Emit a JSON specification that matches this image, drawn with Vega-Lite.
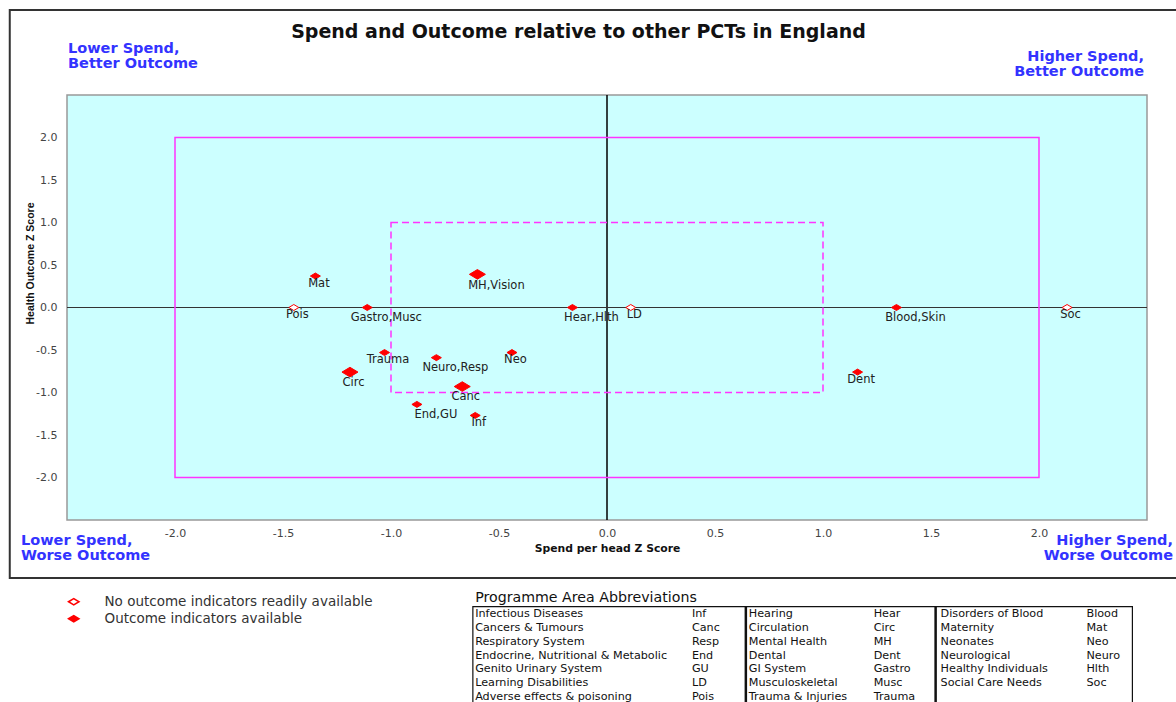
{
  "$schema": "https://vega.github.io/schema/vega-lite/v6.json",
  "width": 1080,
  "height": 425,
  "autosize": {"type": "none"},
  "padding": {"left": 67, "top": 95, "right": 29, "bottom": 182},
  "title": {
    "text": "Spend and Outcome relative to other PCTs in England",
    "anchor": "middle",
    "frame": "group",
    "dx": -28.5,
    "offset": -47.5,
    "baseline": "alphabetic",
    "font": "DejaVu Sans",
    "fontSize": 19,
    "fontWeight": "bold",
    "color": "#111111"
  },
  "datasets": {
    "programmes": [
      {"label": "Mat", "spend_z": -1.35, "outcome_z": 0.37, "indicators": "Outcome indicators available", "weight": "minor"},
      {"label": "MH,Vision", "spend_z": -0.60, "outcome_z": 0.39, "indicators": "Outcome indicators available", "weight": "major"},
      {"label": "Pois", "spend_z": -1.45, "outcome_z": 0.0, "indicators": "No outcome indicators readily available", "weight": "minor"},
      {"label": "Gastro,Musc", "spend_z": -1.11, "outcome_z": 0.0, "indicators": "Outcome indicators available", "weight": "minor"},
      {"label": "Hear,Hlth", "spend_z": -0.16, "outcome_z": 0.0, "indicators": "Outcome indicators available", "weight": "minor"},
      {"label": "LD", "spend_z": 0.11, "outcome_z": 0.0, "indicators": "No outcome indicators readily available", "weight": "minor"},
      {"label": "Blood,Skin", "spend_z": 1.34, "outcome_z": 0.0, "indicators": "Outcome indicators available", "weight": "minor"},
      {"label": "Soc", "spend_z": 2.13, "outcome_z": 0.0, "indicators": "No outcome indicators readily available", "weight": "minor"},
      {"label": "Trauma", "spend_z": -1.03, "outcome_z": -0.53, "indicators": "Outcome indicators available", "weight": "minor"},
      {"label": "Neuro,Resp", "spend_z": -0.79, "outcome_z": -0.59, "indicators": "Outcome indicators available", "weight": "minor"},
      {"label": "Neo", "spend_z": -0.44, "outcome_z": -0.53, "indicators": "Outcome indicators available", "weight": "minor"},
      {"label": "Circ", "spend_z": -1.19, "outcome_z": -0.76, "indicators": "Outcome indicators available", "weight": "major"},
      {"label": "Canc", "spend_z": -0.67, "outcome_z": -0.93, "indicators": "Outcome indicators available", "weight": "major"},
      {"label": "End,GU", "spend_z": -0.88, "outcome_z": -1.14, "indicators": "Outcome indicators available", "weight": "minor"},
      {"label": "Inf", "spend_z": -0.61, "outcome_z": -1.27, "indicators": "Outcome indicators available", "weight": "minor"},
      {"label": "Dent", "spend_z": 1.16, "outcome_z": -0.76, "indicators": "Outcome indicators available", "weight": "minor"}
    ],
    "abbreviations": [
      {"grp": 1, "row": 1, "name": "Infectious Diseases", "abbr": "Inf"},
      {"grp": 1, "row": 2, "name": "Cancers & Tumours", "abbr": "Canc"},
      {"grp": 1, "row": 3, "name": "Respiratory System", "abbr": "Resp"},
      {"grp": 1, "row": 4, "name": "Endocrine, Nutritional & Metabolic", "abbr": "End"},
      {"grp": 1, "row": 5, "name": "Genito Urinary System", "abbr": "GU"},
      {"grp": 1, "row": 6, "name": "Learning Disabilities", "abbr": "LD"},
      {"grp": 1, "row": 7, "name": "Adverse effects & poisoning", "abbr": "Pois"},
      {"grp": 2, "row": 1, "name": "Hearing", "abbr": "Hear"},
      {"grp": 2, "row": 2, "name": "Circulation", "abbr": "Circ"},
      {"grp": 2, "row": 3, "name": "Mental Health", "abbr": "MH"},
      {"grp": 2, "row": 4, "name": "Dental", "abbr": "Dent"},
      {"grp": 2, "row": 5, "name": "GI System", "abbr": "Gastro"},
      {"grp": 2, "row": 6, "name": "Musculoskeletal", "abbr": "Musc"},
      {"grp": 2, "row": 7, "name": "Trauma & Injuries", "abbr": "Trauma"},
      {"grp": 3, "row": 1, "name": "Disorders of Blood", "abbr": "Blood"},
      {"grp": 3, "row": 2, "name": "Maternity", "abbr": "Mat"},
      {"grp": 3, "row": 3, "name": "Neonates", "abbr": "Neo"},
      {"grp": 3, "row": 4, "name": "Neurological", "abbr": "Neuro"},
      {"grp": 3, "row": 5, "name": "Healthy Individuals", "abbr": "Hlth"},
      {"grp": 3, "row": 6, "name": "Social Care Needs", "abbr": "Soc"}
    ]
  },
  "layer": [
    {
      "data": {"name": "programmes"},
      "layer": [
        {
          "data": {"values": [{}]},
          "mark": {"type": "rect", "fill": "transparent", "stroke": "#333333", "strokeWidth": 2},
          "encoding": {"x": {"datum": -2.765}, "x2": {"datum": 2.9}, "y": {"datum": 3.5}, "y2": {"datum": -3.182}}
        },
        {
          "data": {"values": [{}]},
          "mark": {"type": "rule", "color": "#000000", "strokeWidth": 1.5},
          "encoding": {"x": {"datum": 0}}
        },
        {
          "data": {"values": [{}]},
          "mark": {"type": "rule", "color": "#333333", "strokeWidth": 1.2},
          "encoding": {"y": {"datum": 0}}
        },
        {
          "data": {"values": [{}]},
          "mark": {"type": "rect", "fill": "transparent", "stroke": "#ff33ff", "strokeWidth": 1.5},
          "encoding": {"x": {"datum": -2}, "x2": {"datum": 2}, "y": {"datum": 2}, "y2": {"datum": -2}}
        },
        {
          "data": {"values": [{}]},
          "mark": {"type": "rect", "fill": "transparent", "stroke": "#ff33ff", "strokeWidth": 1.5, "strokeDash": [7, 4]},
          "encoding": {"x": {"datum": -1}, "x2": {"datum": 1}, "y": {"datum": 1}, "y2": {"datum": -1}}
        },
        {
          "mark": {"type": "point", "shape": "M-1,0L0,-0.6L1,0L0,0.6Z", "filled": true, "stroke": "#ff0000", "strokeWidth": 1, "opacity": 1},
          "encoding": {
            "x": {
              "field": "spend_z", "type": "quantitative",
              "scale": {"domain": [-2.5, 2.5], "nice": false, "zero": false},
              "axis": {
                "title": "Spend per head Z Score",
                "values": [-2, -1.5, -1, -0.5, 0, 0.5, 1, 1.5, 2],
                "labelExpr": "replace(format(datum.value, '.1f'), '\u2212', '-')",
                "labelPadding": 7,
                "titleFontSize": 10.8,
                "titleBaseline": "alphabetic",
                "titleY": 31
              }
            },
            "y": {
              "field": "outcome_z", "type": "quantitative",
              "scale": {"domain": [-2.5, 2.5], "nice": false, "zero": false},
              "axis": {
                "title": "Health Outcome Z Score",
                "values": [-2, -1.5, -1, -0.5, 0, 0.5, 1, 1.5, 2],
                "labelExpr": "replace(format(datum.value, '.1f'), '\u2212', '-')",
                "labelPadding": 10,
                "titleFont": "Liberation Sans",
                "titleFontSize": 10.5,
                "titleBaseline": "alphabetic",
                "titleX": -34,
                "titleY": 168
              }
            },
            "fill": {
              "field": "indicators", "type": "nominal",
              "scale": {"domain": ["No outcome indicators readily available", "Outcome indicators available"], "range": ["#ffffff", "#ff0000"]},
              "legend": {
                "orient": "none", "legendX": 0, "legendY": 500, "title": null, "padding": 0,
                "symbolType": "M-1,0L0,-0.6L1,0L0,0.6Z", "symbolSize": 110,
                "symbolStrokeColor": "#ff0000", "symbolStrokeWidth": 1.5,
                "labelFont": "DejaVu Sans", "labelFontSize": 13.5, "labelColor": "#333333",
                "labelOffset": 24, "rowPadding": 2, "labelLimit": 500
              }
            },
            "size": {
              "field": "weight", "type": "ordinal",
              "scale": {"domain": ["minor", "major"], "range": [100, 256]},
              "legend": null
            }
          }
        },
        {
          "transform": [{"filter": "datum.weight == 'minor' && indexof(datum.label, ',') < 0"}],
          "mark": {"type": "text", "align": "center", "baseline": "middle", "dx": 3.5, "dy": 7.5, "font": "DejaVu Sans", "fontSize": 11.5, "color": "#222222"},
          "encoding": {"x": {"field": "spend_z", "type": "quantitative"}, "y": {"field": "outcome_z", "type": "quantitative"}, "text": {"field": "label"}}
        },
        {
          "transform": [{"filter": "datum.weight == 'minor' && indexof(datum.label, ',') >= 0"}],
          "mark": {"type": "text", "align": "center", "baseline": "middle", "dx": 19, "dy": 10.5, "font": "DejaVu Sans", "fontSize": 11.5, "color": "#222222"},
          "encoding": {"x": {"field": "spend_z", "type": "quantitative"}, "y": {"field": "outcome_z", "type": "quantitative"}, "text": {"field": "label"}}
        },
        {
          "transform": [{"filter": "datum.weight == 'major' && indexof(datum.label, ',') < 0"}],
          "mark": {"type": "text", "align": "center", "baseline": "middle", "dx": 3.5, "dy": 10.5, "font": "DejaVu Sans", "fontSize": 11.5, "color": "#222222"},
          "encoding": {"x": {"field": "spend_z", "type": "quantitative"}, "y": {"field": "outcome_z", "type": "quantitative"}, "text": {"field": "label"}}
        },
        {
          "transform": [{"filter": "datum.weight == 'major' && indexof(datum.label, ',') >= 0"}],
          "mark": {"type": "text", "align": "center", "baseline": "middle", "dx": 19, "dy": 11.5, "font": "DejaVu Sans", "fontSize": 11.5, "color": "#222222"},
          "encoding": {"x": {"field": "spend_z", "type": "quantitative"}, "y": {"field": "outcome_z", "type": "quantitative"}, "text": {"field": "label"}}
        },
        {
          "data": {"values": [{}]},
          "mark": {"type": "text", "text": ["Lower Spend,", "Better Outcome"], "align": "left", "baseline": "alphabetic", "dx": 1, "dy": -42, "font": "DejaVu Sans", "fontSize": 14.5, "fontWeight": "bold", "lineHeight": 15, "color": "#3333ff"},
          "encoding": {"x": {"datum": -2.5}, "y": {"datum": 2.5}}
        },
        {
          "data": {"values": [{}]},
          "mark": {"type": "text", "text": ["Higher Spend,", "Better Outcome"], "align": "right", "baseline": "alphabetic", "dx": -3, "dy": -34.5, "font": "DejaVu Sans", "fontSize": 14.5, "fontWeight": "bold", "lineHeight": 15, "color": "#3333ff"},
          "encoding": {"x": {"datum": 2.5}, "y": {"datum": 2.5}}
        },
        {
          "data": {"values": [{}]},
          "mark": {"type": "text", "text": ["Lower Spend,", "Worse Outcome"], "align": "left", "baseline": "alphabetic", "dx": -46, "dy": 25, "font": "DejaVu Sans", "fontSize": 14.5, "fontWeight": "bold", "lineHeight": 15, "color": "#3333ff"},
          "encoding": {"x": {"datum": -2.5}, "y": {"datum": -2.5}}
        },
        {
          "data": {"values": [{}]},
          "mark": {"type": "text", "text": ["Higher Spend,", "Worse Outcome"], "align": "right", "baseline": "alphabetic", "dx": 26, "dy": 25, "font": "DejaVu Sans", "fontSize": 14.5, "fontWeight": "bold", "lineHeight": 15, "color": "#3333ff"},
          "encoding": {"x": {"datum": 2.5}, "y": {"datum": -2.5}}
        }
      ]
    },
    {
      "data": {"name": "abbreviations"},
      "layer": [
        {
          "transform": [{"filter": "datum.grp == 1"}],
          "mark": {"type": "text", "align": "left", "baseline": "middle", "font": "DejaVu Sans", "fontSize": 11.2, "color": "#111111"},
          "encoding": {
            "x": {"datum": -0.6104},
            "y": {"field": "row", "type": "quantitative", "scale": {"domain": [1, 7], "range": [519.3, 602], "nice": false, "zero": false}, "axis": null},
            "text": {"field": "name"}
          }
        },
        {
          "transform": [{"filter": "datum.grp == 1"}],
          "mark": {"type": "text", "align": "left", "baseline": "middle", "font": "DejaVu Sans", "fontSize": 11.2, "color": "#111111"},
          "encoding": {"x": {"datum": 0.3931}, "y": {"field": "row", "type": "quantitative", "axis": null}, "text": {"field": "abbr"}}
        },
        {
          "transform": [{"filter": "datum.grp == 2"}],
          "mark": {"type": "text", "align": "left", "baseline": "middle", "font": "DejaVu Sans", "fontSize": 11.2, "color": "#111111"},
          "encoding": {"x": {"datum": 0.6566}, "y": {"field": "row", "type": "quantitative", "axis": null}, "text": {"field": "name"}}
        },
        {
          "transform": [{"filter": "datum.grp == 2"}],
          "mark": {"type": "text", "align": "left", "baseline": "middle", "font": "DejaVu Sans", "fontSize": 11.2, "color": "#111111"},
          "encoding": {"x": {"datum": 1.2347}, "y": {"field": "row", "type": "quantitative", "axis": null}, "text": {"field": "abbr"}}
        },
        {
          "transform": [{"filter": "datum.grp == 3"}],
          "mark": {"type": "text", "align": "left", "baseline": "middle", "font": "DejaVu Sans", "fontSize": 11.2, "color": "#111111"},
          "encoding": {"x": {"datum": 1.5445}, "y": {"field": "row", "type": "quantitative", "axis": null}, "text": {"field": "name"}}
        },
        {
          "transform": [{"filter": "datum.grp == 3"}],
          "mark": {"type": "text", "align": "left", "baseline": "middle", "font": "DejaVu Sans", "fontSize": 11.2, "color": "#111111"},
          "encoding": {"x": {"datum": 2.2197}, "y": {"field": "row", "type": "quantitative", "axis": null}, "text": {"field": "abbr"}}
        },
        {
          "data": {"values": [{}]},
          "mark": {"type": "text", "text": "Programme Area Abbreviations", "align": "left", "baseline": "alphabetic", "dy": -12.3, "font": "DejaVu Sans", "fontSize": 14.2, "color": "#111111"},
          "encoding": {"x": {"datum": -0.6104}, "y": {"datum": 1, "axis": null}}
        },
        {
          "data": {"values": [{}]},
          "mark": {"type": "rect", "fill": "transparent", "stroke": "#111111", "strokeWidth": 1.2},
          "encoding": {"x": {"datum": -0.621}, "x2": {"datum": 2.4324}, "y": {"datum": 0.45, "axis": null}, "y2": {"datum": 8.5}}
        },
        {
          "data": {"values": [{}]},
          "mark": {"type": "rule", "color": "#111111", "strokeWidth": 2.5},
          "encoding": {"x": {"datum": 0.6428}, "y": {"datum": 0.45, "axis": null}, "y2": {"datum": 8.5}}
        },
        {
          "data": {"values": [{}]},
          "mark": {"type": "rule", "color": "#111111", "strokeWidth": 2.5},
          "encoding": {"x": {"datum": 1.5214}, "y": {"datum": 0.45, "axis": null}, "y2": {"datum": 8.5}}
        }
      ]
    }
  ],
  "resolve": {"scale": {"y": "independent"}},
  "config": {
    "view": {"fill": "#ccffff", "stroke": "#999999", "strokeWidth": 1.5},
    "font": "DejaVu Sans",
    "axis": {
      "grid": false, "domain": false, "ticks": false, "tickSize": 0,
      "labelFont": "DejaVu Sans", "labelFontSize": 11, "labelColor": "#444444",
      "titleFont": "DejaVu Sans", "titleFontWeight": "bold", "titleColor": "#111111",
      "labelFlush": false, "labelOverlap": false
    }
  }
}
